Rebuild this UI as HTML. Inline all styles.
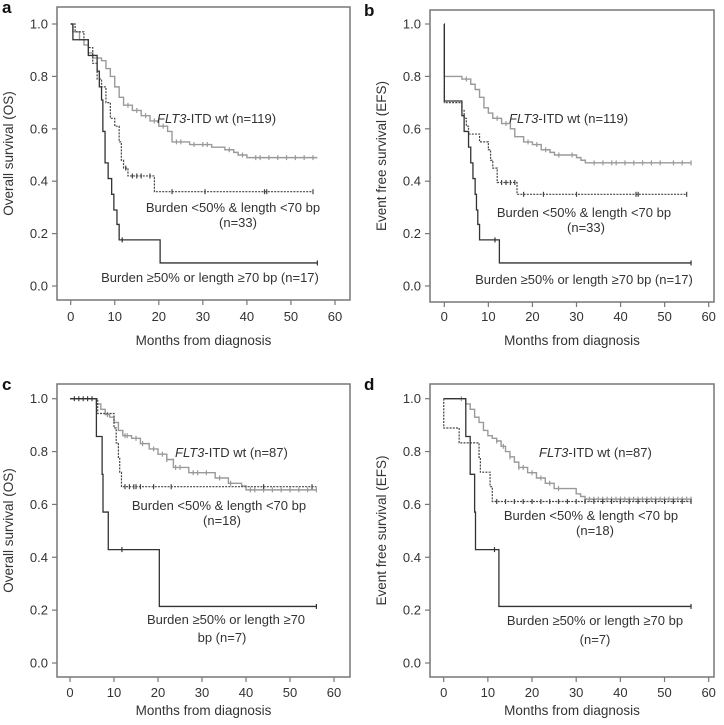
<!DOCTYPE html>
<html><head><meta charset="utf-8"><style>
body{margin:0;background:#fff}
svg{display:block;font-family:"Liberation Sans",sans-serif}
</style></head><body>
<svg id="fig" width="724" height="725" viewBox="0 0 724 725"></svg>
<script>
const xTicks=[0,10,20,30,40,50,60];
const yTicks=[0,0.2,0.4,0.6,0.8,1.0];
const yTickLabels=["0.0","0.2","0.4","0.6","0.8","1.0"];
// Panel a
const aWtT=[0,0.5,2,3,4,5,7,8,9,10,11,12,14,16,18,20,22,23,27,32,35,37,38,40,56];
const aWtS=[1,0.97,0.94,0.92,0.89,0.87,0.86,0.83,0.80,0.76,0.72,0.69,0.67,0.65,0.63,0.61,0.59,0.55,0.54,0.53,0.52,0.51,0.50,0.49,0.49];
const aWtC=[13,15,17,19,21,24,25,28,30,31,36,39,42,43,45,47,49,51,53,55];
const aLoT=[0,1,3,4,5,6,7,8,9,10,11,11.5,12,13,19,55];
const aLoS=[1,0.97,0.94,0.91,0.85,0.79,0.76,0.70,0.64,0.61,0.55,0.48,0.45,0.42,0.36,0.36];
const aLoC=[12.5,14,15,16,18,23,30.5,44,44.5,55];
const aHiT=[0,0.5,4,6,6.5,7,7.3,7.8,8.5,9.3,9.8,10.5,11,20.3,56];
const aHiS=[1,0.94,0.88,0.82,0.76,0.71,0.59,0.47,0.41,0.35,0.29,0.235,0.176,0.088,0.088];
const aHiC=[11.7,56];
// Panel b
const bWtT=[0,0.01,4,6,7,8,9,10,11,13,15,16,18,20,22,24,25,30,31,32,56];
const bWtS=[1,0.80,0.79,0.77,0.75,0.72,0.68,0.66,0.64,0.62,0.60,0.57,0.55,0.54,0.52,0.51,0.50,0.49,0.48,0.47,0.47];
const bWtC=[5,12,14,19,21,23,26,29,34,36,38,39,41,43,45,47,49,52,54,56];
const bLoT=[0,0.01,4,4.5,5,5.5,8,10,10.5,11,12,16.5,55];
const bLoS=[1,0.70,0.67,0.64,0.61,0.58,0.55,0.52,0.48,0.45,0.395,0.35,0.35];
const bLoC=[13,14,15,16,18,22.5,30,43.5,44,55];
const bHiT=[0,0.01,4,4.5,5.5,6,6.5,7,7.3,7.6,8,12.5,56];
const bHiS=[1,0.706,0.65,0.59,0.53,0.47,0.41,0.35,0.29,0.235,0.176,0.088,0.088];
const bHiC=[11.5,56];
// Panel c
const cWtT=[0,6,7,8,9,10,11,12,14,16,18,20,22,23.5,27,33,36,39,40,56];
const cWtS=[1,0.98,0.96,0.94,0.93,0.91,0.88,0.86,0.85,0.83,0.81,0.79,0.77,0.74,0.72,0.70,0.68,0.67,0.655,0.655];
const cWtC=[8.5,12.5,13,15,16.5,19,21,22,24,25,28,29,31,34,36.5,41,42,44,46,48,50,52,54,56];
const cLoT=[0,6.3,10,10.5,11,11.3,11.7,56];
const cLoS=[1,0.944,0.889,0.833,0.778,0.722,0.667,0.667];
const cLoC=[1,2,3,4,5,12.5,13.5,14.5,15,16,19,23,44,55];
const cHiT=[0,6,7.3,7.5,8.7,20.3,56];
const cHiS=[1,0.857,0.714,0.571,0.429,0.214,0.214];
const cHiC=[11.8,56];
// Panel d
const dWtT=[0,5,6,7,8,9,10,11,12,13,14,15,16,17,19,21,23,25,30,31,32,56];
const dWtS=[1,0.98,0.96,0.93,0.91,0.88,0.86,0.85,0.84,0.82,0.80,0.78,0.76,0.74,0.72,0.70,0.68,0.66,0.64,0.63,0.62,0.62];
const dWtC=[4,12,13.5,15,17,18,20,22,24,26,33,34,35,36,37,38,39,40,41,42,43,44,45,46,47,48,49,50,51,52,53,54,55,56];
const dLoT=[0,0.01,3.5,8,8.3,10.5,11,56];
const dLoS=[1,0.889,0.833,0.778,0.722,0.667,0.611,0.611];
const dLoC=[12,14,16,18,20,22,24,26,28,30,32,34,36,38,40,42,44,46,48,50,52,54,56];
const dHiT=[0,5,6,7,7.2,12.5,56];
const dHiS=[1,0.857,0.714,0.571,0.429,0.214,0.214];
const dHiC=[11.5,56];

const NS="http://www.w3.org/2000/svg";
const svg=document.getElementById('fig');
function mk(tag,attrs,parent){const e=document.createElementNS(NS,tag);for(const k in attrs)e.setAttribute(k,attrs[k]);(parent||svg).appendChild(e);return e;}

const panels=[
 {id:'a',box:[57,7,350,300],x0:70.7,x1:335,y1:24,y0:286,tickY:321,titleY:345,ytitle:'Overall survival (OS)',
  wt:[aWtT,aWtS,aWtC],lo:[aLoT,aLoS,aLoC],hi:[aHiT,aHiS,aHiC],
  labels:[[157,123,'start','wt','119'],[233,212,'middle','Burden <50% & length <70 bp'],[238,227,'middle','(n=33)'],[210,282,'middle','Burden  ≥50% or length  ≥70 bp (n=17)']]},
 {id:'b',box:[430,10,714,302],x0:444.3,x1:708.7,y1:24,y0:286,tickY:321,titleY:345,ytitle:'Event free survival (EFS)',
  wt:[bWtT,bWtS,bWtC],lo:[bLoT,bLoS,bLoC],hi:[bHiT,bHiS,bHiC],
  labels:[[509,123,'start','wt','119'],[584,217,'middle','Burden <50% & length <70 bp'],[586,232,'middle','(n=33)'],[584,284,'middle','Burden  ≥50% or length  ≥70 bp (n=17)']]},
 {id:'c',box:[57,384,350,677],x0:70,x1:334,y1:398.7,y0:663,tickY:697,titleY:715,ytitle:'Overall survival (OS)',
  wt:[cWtT,cWtS,cWtC],lo:[cLoT,cLoS,cLoC],hi:[cHiT,cHiS,cHiC],
  labels:[[175,457,'start','wt','87'],[219,510,'middle','Burden <50% & length <70 bp'],[222,525,'middle','(n=18)'],[226,624,'middle','Burden  ≥50% or length  ≥70'],[222,642,'middle','bp (n=7)']]},
 {id:'d',box:[430,384,714,677],x0:443.7,x1:708.7,y1:398.7,y0:663,tickY:697,titleY:715,ytitle:'Event free survival (EFS)',
  wt:[dWtT,dWtS,dWtC],lo:[dLoT,dLoS,dLoC],hi:[dHiT,dHiS,dHiC],
  labels:[[539,457,'start','wt','87'],[591,520,'middle','Burden <50% & length <70 bp'],[595,535,'middle','(n=18)'],[595,625,'middle','Burden  ≥50% or length  ≥70 bp'],[595,644,'middle','(n=7)']]}
];

panels.forEach(p=>{
 const g=mk('g',{});
 
 
 const X=t=>p.x0+(p.x1-p.x0)*t/60;
 const Y=s=>p.y0-(p.y0-p.y1)*s;
 const [bx0,by0,bx1,by1]=p.box;
 const r=mk('rect',{x:bx0,y:by0,width:bx1-bx0,height:by1-by0,fill:'none',stroke:'#777','stroke-width':1.5},g);
 
 
 const lt=mk('text',{x:(p.id==='a'||p.id==='c')?2:364,y:by0+6,'font-size':17,'font-weight':'bold',fill:'#111'},g);
 lt.textContent=p.id;
 
 
 xTicks.forEach(t=>{
  mk('line',{x1:X(t),x2:X(t),y1:by1,y2:by1+5,stroke:'#777','stroke-width':1.2},g);
  const tx=mk('text',{x:X(t),y:p.tickY,'text-anchor':'middle','font-size':13,fill:'#333'},g);
  tx.textContent=t;
  
  
 });
 yTicks.forEach((v,i)=>{
  mk('line',{x1:bx0-5,x2:bx0,y1:Y(v),y2:Y(v),stroke:'#777','stroke-width':1.2},g);
  const ty=mk('text',{x:bx0-9,y:Y(v)+4.5,'text-anchor':'end','font-size':13,fill:'#333'},g);
  ty.textContent=yTickLabels[i];
  
  
 });
 const xt=mk('text',{x:(bx0+bx1)/2,y:p.titleY,'text-anchor':'middle','font-size':13.5,fill:'#333'},g);
 xt.textContent='Months from diagnosis';
 
 
 const cy=(by0+by1)/2, cx=bx0-44;
 const yt=mk('text',{x:cx,y:cy,'text-anchor':'middle','font-size':13.5,fill:'#333',transform:`rotate(-90 ${cx} ${cy})`},g);
 yt.textContent=p.ytitle;
 
 
 function curve(d,color,dash,w,name){
  const [T,S,C]=d;
  let path=`M${X(T[0])},${Y(S[0])}`;
  for(let i=1;i<T.length;i++){path+=` H${X(T[i])} V${Y(S[i])}`;}
  const pa=mk('path',{d:path,fill:'none',stroke:color,'stroke-width':w,'stroke-dasharray':dash},g);
  
  
  C.forEach(c=>{
   let s=S[0];for(let i=0;i<T.length;i++){if(T[i]<=c)s=S[i];}
   const m=mk('path',{d:`M${X(c)},${Y(s)-2.5} v5`,stroke:color,'stroke-width':1.2},g);
   
   
  });
 }
 curve(p.wt,'#9a9a9a','none',1.4,'flt3-wt');
 curve(p.lo,'#444','2,1.2',1.2,'low-burden');
 curve(p.hi,'#333','none',1.3,'high-burden');
 p.labels.forEach(L=>{
  const t=mk('text',{x:L[0],y:L[1],'text-anchor':L[2],'font-size':13,fill:'#333'},g);
  
  
  if(L[3]==='wt'){
   const i=mk('tspan',{'font-style':'italic'},t);i.textContent='FLT3';
   const r2=mk('tspan',{},t);r2.textContent='-ITD wt (n='+L[4]+')';
  } else t.textContent=L[3];
 });
});
</script>
</body></html>
